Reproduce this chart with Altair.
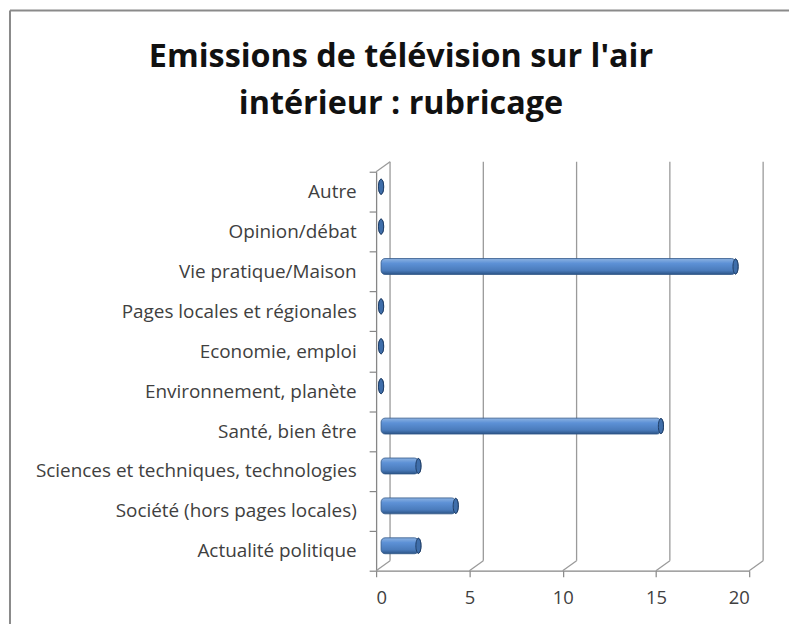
import altair as alt
import pandas as pd

categories = [
    "Autre",
    "Opinion/débat",
    "Vie pratique/Maison",
    "Pages locales et régionales",
    "Economie, emploi",
    "Environnement, planète",
    "Santé, bien être",
    "Sciences et techniques, technologies",
    "Société (hors pages locales)",
    "Actualité politique",
]
values = [0, 0, 19, 0, 0, 0, 15, 2, 4, 2]
x_ticks = [0, 5, 10, 15, 20]
title_text = "Emissions de télévision sur l'air\nintérieur : rubricage"

df = pd.DataFrame({"cat": categories, "val": values})
df_pos = df[df["val"] > 0]
ticks_df = pd.DataFrame({"t": x_ticks})
zero_df = pd.DataFrame({"t": [0]})
title_df = pd.DataFrame({"txt": [title_text]})

W, H = 375, 401
DX, DY = 14, -10          # depth of the 3D box
BX, BY = 5, -5            # bars sit mid-depth
FONT = "Open Sans"
GRID = "#9a9a9a"
TXT = "#404040"

xscale = alt.Scale(domain=[0, 20], nice=False, zero=True)
yscale = alt.Scale(domain=categories, paddingInner=0, paddingOuter=0)

x_axis = alt.Axis(
    title=None, values=x_ticks, grid=False, domainColor="#868686", domainWidth=1.3,
    tickColor="#868686", tickSize=6, tickWidth=1.2, labelFont=FONT, labelFontSize=18.5,
    labelColor=TXT, labelPadding=12)
y_axis = alt.Axis(
    title=None, tickBand="extent", domainColor="#868686", domainWidth=1.3,
    tickColor="#868686", tickSize=7, tickWidth=1.2, labelFont=FONT, labelFontSize=19,
    labelColor=TXT, labelPadding=13, labelLimit=400)

ellipse = "M 0 -1 A 0.34 1 0 1 1 0 1 A 0.34 1 0 1 1 0 -1 Z"
caps = alt.Chart(df).mark_point(
    shape=ellipse, size=225, filled=True, fill="#3f6eaa", stroke="#1f3d66",
    strokeWidth=1, opacity=1, xOffset=BX, yOffset=BY,
).encode(
    y=alt.Y("cat:N", scale=yscale, sort=categories, axis=y_axis, title=None),
    x=alt.X("val:Q", scale=xscale, axis=x_axis, title=None),
)

# back wall gridlines
back = alt.Chart(ticks_df).mark_rule(color=GRID, strokeWidth=1.3, xOffset=DX).encode(
    x=alt.X("t:Q", scale=xscale, title=None),
    y=alt.value(DY), y2=alt.value(H + DY),
)
# floor diagonals
floor = alt.Chart(ticks_df).mark_rule(color=GRID, strokeWidth=1.3, x2Offset=DX).encode(
    x=alt.X("t:Q", scale=xscale, title=None), x2="t:Q",
    y=alt.value(H), y2=alt.value(H + DY),
)
# left wall top diagonal
wall = alt.Chart(zero_df).mark_rule(color=GRID, strokeWidth=1.3, x2Offset=DX).encode(
    x=alt.X("t:Q", scale=xscale, title=None), x2="t:Q",
    y=alt.value(0), y2=alt.value(DY),
)

grad = alt.Gradient(
    gradient="linear", x1=0, y1=0, x2=0, y2=1,
    stops=[
        alt.GradientStop(offset=0, color="#8db3e2"),
        alt.GradientStop(offset=0.3, color="#5d91d6"),
        alt.GradientStop(offset=0.75, color="#4a7bbb"),
        alt.GradientStop(offset=1, color="#2c5486"),
    ],
)

bars = alt.Chart(df_pos).mark_bar(
    size=16, cornerRadius=4, color=grad, stroke="#2f5687", strokeWidth=0.8,
    xOffset=BX, x2Offset=BX, yOffset=BY,
).encode(
    y=alt.Y("cat:N", scale=yscale, sort=categories, title=None),
    x=alt.X("val:Q", scale=xscale, title=None),
    x2=alt.datum(0),
)

# chart title (two lines)
title = alt.Chart(title_df).mark_text(
    font=FONT, fontSize=32.5, fontWeight="bold", color="#111111", align="center",
    baseline="alphabetic", lineBreak="\n", lineHeight=47,
).encode(text="txt:N", x=alt.value(25), y=alt.value(66 - 171))

# outer frame of the chart object (only top and left edges are visible)
frame_top = alt.Chart(zero_df).mark_rule(color="#8a8a8a", strokeWidth=2).encode(
    x=alt.value(-368), x2=alt.value(W + 60), y=alt.value(-162))
frame_left = alt.Chart(zero_df).mark_rule(color="#8a8a8a", strokeWidth=2).encode(
    x=alt.value(-368), y=alt.value(-162), y2=alt.value(H + 70))

chart = alt.layer(caps, frame_top, frame_left, back, floor, wall, bars, caps, title).properties(
    width=W, height=H,
    padding={"left": 370, "top": 163, "right": 40, "bottom": 52},
    autosize=alt.AutoSizeParams(type="none"),
).configure(background="white").configure_view(stroke=None)

chart.save("out.html", embed_options={"renderer": "svg", "actions": False})
